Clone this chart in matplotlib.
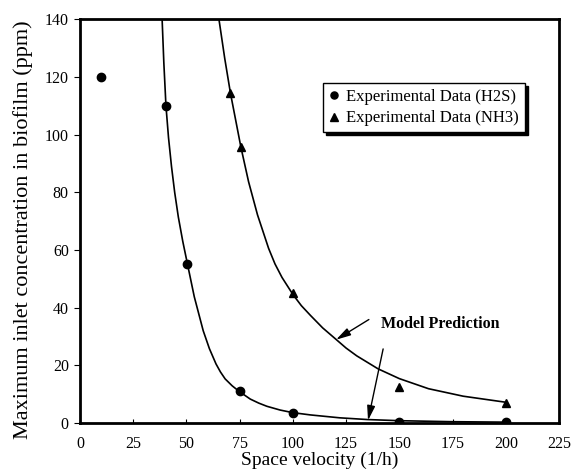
import matplotlib
matplotlib.use("Agg")
import matplotlib.pyplot as plt

plt.rcParams['font.family'] = ['Liberation Serif', 'DejaVu Serif']

# Experimental data
h2s_x = [10, 40.4, 50.4, 75, 100, 150, 200]
h2s_y = [120, 110, 55, 11, 3.6, 0.5, 0.3]
nh3_x = [70.7, 75.6, 100, 150, 200]
nh3_y = [114.5, 95.7, 45, 12.5, 7]

# Model prediction curves
h2s_model_x = [38.6, 39.4, 40.4, 41.6, 43.0, 44.5, 46.2, 48.3, 50.4, 53.7, 57.9, 60.8, 63.9, 66.0,
               68.2, 71.5, 74.9, 80.0, 84.0, 87.8, 94.0, 99.9, 108.3, 122.0, 135.0, 150.0, 175.0, 200.0]
h2s_model_y = [140, 125, 110, 99, 89, 80, 71.5, 63, 55.5, 43.8, 32, 25.8, 20.5, 17.7,
               15.3, 12.9, 10.9, 8.3, 6.9, 5.8, 4.5, 3.6, 2.8, 1.8, 1.2, 0.8, 0.45, 0.3]
nh3_model_x = [65.3, 68.0, 70.7, 75.6, 79.2, 83.4, 88.6, 91.6, 94.9, 100.1, 104.0, 108.3, 114.0,
               120.3, 125.0, 130.0, 140.0, 150.0, 163.7, 180.0, 200.0]
nh3_model_y = [140, 126.5, 114.4, 95.7, 83.7, 72.2, 60.6, 55.2, 50.5, 44.5, 40.7, 37.3, 33.0,
               29.0, 26.0, 23.3, 18.8, 15.4, 11.9, 9.3, 7.2]

x_ticks = [0, 25, 50, 75, 100, 125, 150, 175, 200, 225]
y_ticks = [0, 20, 40, 60, 80, 100, 120, 140]

fig = plt.figure(figsize=(5.71, 4.72), dpi=100)
ax = fig.add_axes([0.140, 0.1038, 0.839, 0.855])

ax.plot(h2s_model_x, h2s_model_y, color='black', lw=1.2, zorder=2)
ax.plot(nh3_model_x, nh3_model_y, color='black', lw=1.2, zorder=2)
ax.plot(h2s_x, h2s_y, 'o', color='black', ms=6, ls='none', label='Experimental Data (H2S)', zorder=3)
ax.plot(nh3_x, nh3_y, '^', color='black', ms=6, ls='none', label='Experimental Data (NH3)', zorder=3)

ax.set_xlim(0, 225)
ax.set_ylim(0, 140)
ax.set_xticks(x_ticks)
ax.set_yticks(y_ticks)
ax.tick_params(axis='x', direction='in', length=3, labelsize=11.5, pad=9)
ax.tick_params(axis='y', direction='out', length=4, labelsize=11.5, pad=4)
for s in ax.spines.values():
    s.set_linewidth(2)

ax.set_xlabel('Space velocity (1/h)', fontsize=14, labelpad=0)
ax.set_ylabel('Maximum inlet concentration in biofilm (ppm)', fontsize=16)
ax.yaxis.set_label_coords(-0.098, 0.48)

leg = ax.legend(loc='upper left', bbox_to_anchor=(0.507, 0.843), borderaxespad=0,
                fontsize=12, frameon=True, fancybox=False, edgecolor='black',
                handlelength=0.6, handletextpad=0.45, markerscale=0.85,
                shadow={'color': 'black', 'alpha': 1.0, 'ox': 2, 'oy': -2},
                borderpad=0.35, labelspacing=0.35)
leg.get_frame().set_linewidth(1.0)

ax.text(141.6, 34.5, 'Model Prediction', fontsize=11.5, fontweight='bold', va='center', ha='left')
arrow_style = dict(arrowstyle='-|>,head_length=1.1,head_width=0.3', color='black', lw=1.0,
                   mutation_scale=8, shrinkA=0, shrinkB=0)
ax.annotate('', xy=(120.3, 28.9), xytext=(135.7, 35.9), arrowprops=arrow_style)
ax.annotate('', xy=(135.3, 0.9), xytext=(142.4, 25.7), arrowprops=arrow_style)

fig.savefig('out.png', dpi=100)
